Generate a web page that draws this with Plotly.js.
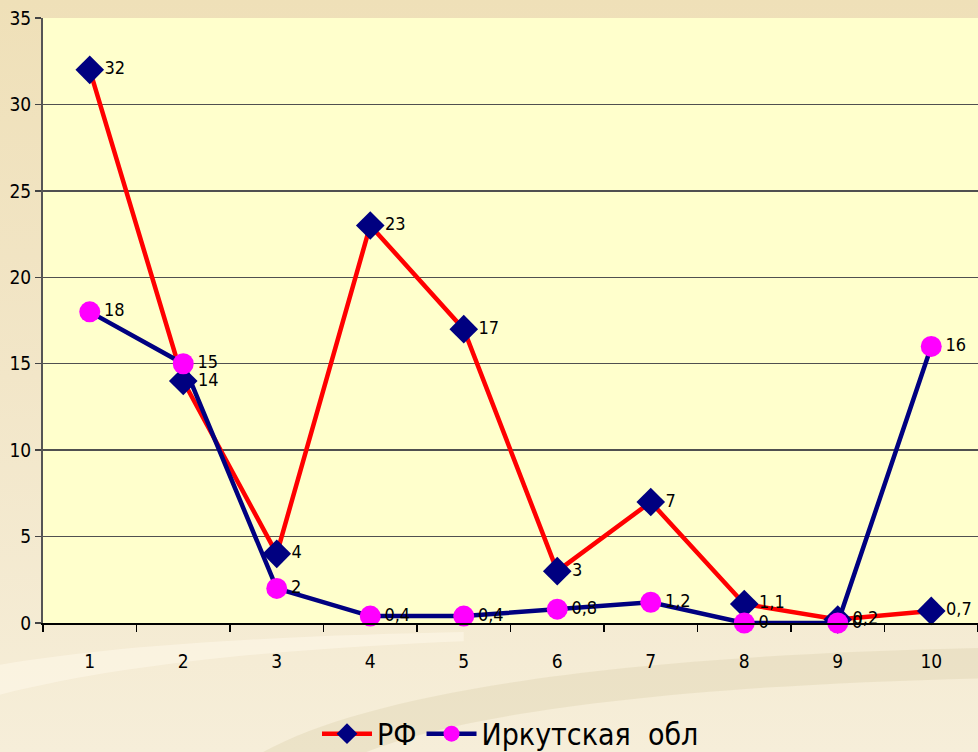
<!DOCTYPE html>
<html>
<head>
<meta charset="utf-8">
<script src="https://cdn.plot.ly/plotly-3.0.1.min.js"></script>
<style>
html,body{margin:0;padding:0;width:978px;height:752px;overflow:hidden;
background:linear-gradient(180deg,#efe0b8 0%,#f2e6c8 50%,#f6eed9 100%);}
#chart{width:978px;height:752px;}
</style>
</head>
<body>
<div id="chart"></div>
<script>
const categories = ["1","2","3","4","5","6","7","8","9","10"];
const seriesNames = ["РФ", "Иркутская\u00a0 обл"];
const rfValues = [32, 14, 4, 23, 17, 3, 7, 1.1, 0.2, 0.7];
const irkValues = [18, 15, 2, 0.4, 0.4, 0.8, 1.2, 0, 0, 16];
const yTicks = [0, 5, 10, 15, 20, 25, 30, 35];

const FONT = '"DejaVu Sans Condensed", "Liberation Sans Narrow", "Liberation Sans", Arial, sans-serif';

const traces = [
  {
    x: categories, y: rfValues, name: seriesNames[0], type: 'scatter',
    mode: 'lines+markers+text',
    line: {color: '#ff0000', width: 4.5},
    marker: {symbol: 'diamond', size: 22, color: '#000080'},
    texttemplate: '%{y:.1~f}', textposition: 'middle right',
    textfont: {family: FONT, size: 18, color: '#000000'},
    cliponaxis: false
  },
  {
    x: categories, y: irkValues, name: seriesNames[1], type: 'scatter',
    mode: 'lines+markers+text',
    line: {color: '#000080', width: 4.5},
    marker: {symbol: 'circle', size: 21, color: '#ff00ff'},
    texttemplate: '%{y:.1~f}', textposition: 'middle right',
    textfont: {family: FONT, size: 18, color: '#000000'},
    cliponaxis: false
  }
];

const layout = {
  width: 978, height: 752,
  margin: {l: 43, r: 0, t: 18, b: 129, autoexpand: false},
  paper_bgcolor: 'rgba(0,0,0,0)',
  plot_bgcolor: '#ffffcc',
  separators: ', ',
  font: {family: FONT, color: '#000000'},
  showlegend: true,
  legend: {
    orientation: 'h', x: 0.5, xanchor: 'center', y: -0.183, yanchor: 'middle',
    font: {family: FONT, size: 30, color: '#000000'},
    bgcolor: 'rgba(0,0,0,0)', itemwidth: 50, tracegroupgap: 0
  },
  xaxis: {
    type: 'category', categoryorder: 'array', categoryarray: categories,
    range: [-0.5, 9.5], tickson: 'boundaries',
    ticks: 'outside', ticklen: 7, tickwidth: 1.5, tickcolor: '#000',
    showline: true, linecolor: '#000', linewidth: 2,
    showgrid: false, zeroline: false,
    ticklabelstandoff: 20,
    tickfont: {family: FONT, size: 19, color: '#000'},
    fixedrange: true
  },
  yaxis: {
    range: [0, 35], tickvals: yTicks,
    ticks: 'outside', ticklen: 6, tickwidth: 1.5, tickcolor: '#444',
    showline: true, linecolor: '#555', linewidth: 2,
    showgrid: true, gridcolor: '#505050', gridwidth: 1.5,
    zeroline: false,
    tickfont: {family: FONT, size: 19, color: '#000'},
    fixedrange: true
  },
  shapes: [
    {type: 'path', xref: 'paper', yref: 'paper', layer: 'below',
     path: 'M 0.2,-0.25 C 0.3,-0.12 0.6,-0.05 1.05,-0.04 L 1.05,-0.09 C 0.65,-0.1 0.38,-0.16 0.3,-0.25 Z',
     fillcolor: 'rgba(225,212,180,0.45)', line: {width: 0}},
    {type: 'path', xref: 'paper', yref: 'paper', layer: 'below',
     path: 'M -0.05,-0.12 C 0.1,-0.06 0.3,-0.04 0.45,-0.03 L 0.45,-0.015 C 0.3,-0.02 0.1,-0.03 -0.05,-0.07 Z',
     fillcolor: 'rgba(255,250,235,0.5)', line: {width: 0}}
  ]
};

Plotly.newPlot('chart', traces, layout, {displayModeBar: false, staticPlot: true});
</script>
</body>
</html>
